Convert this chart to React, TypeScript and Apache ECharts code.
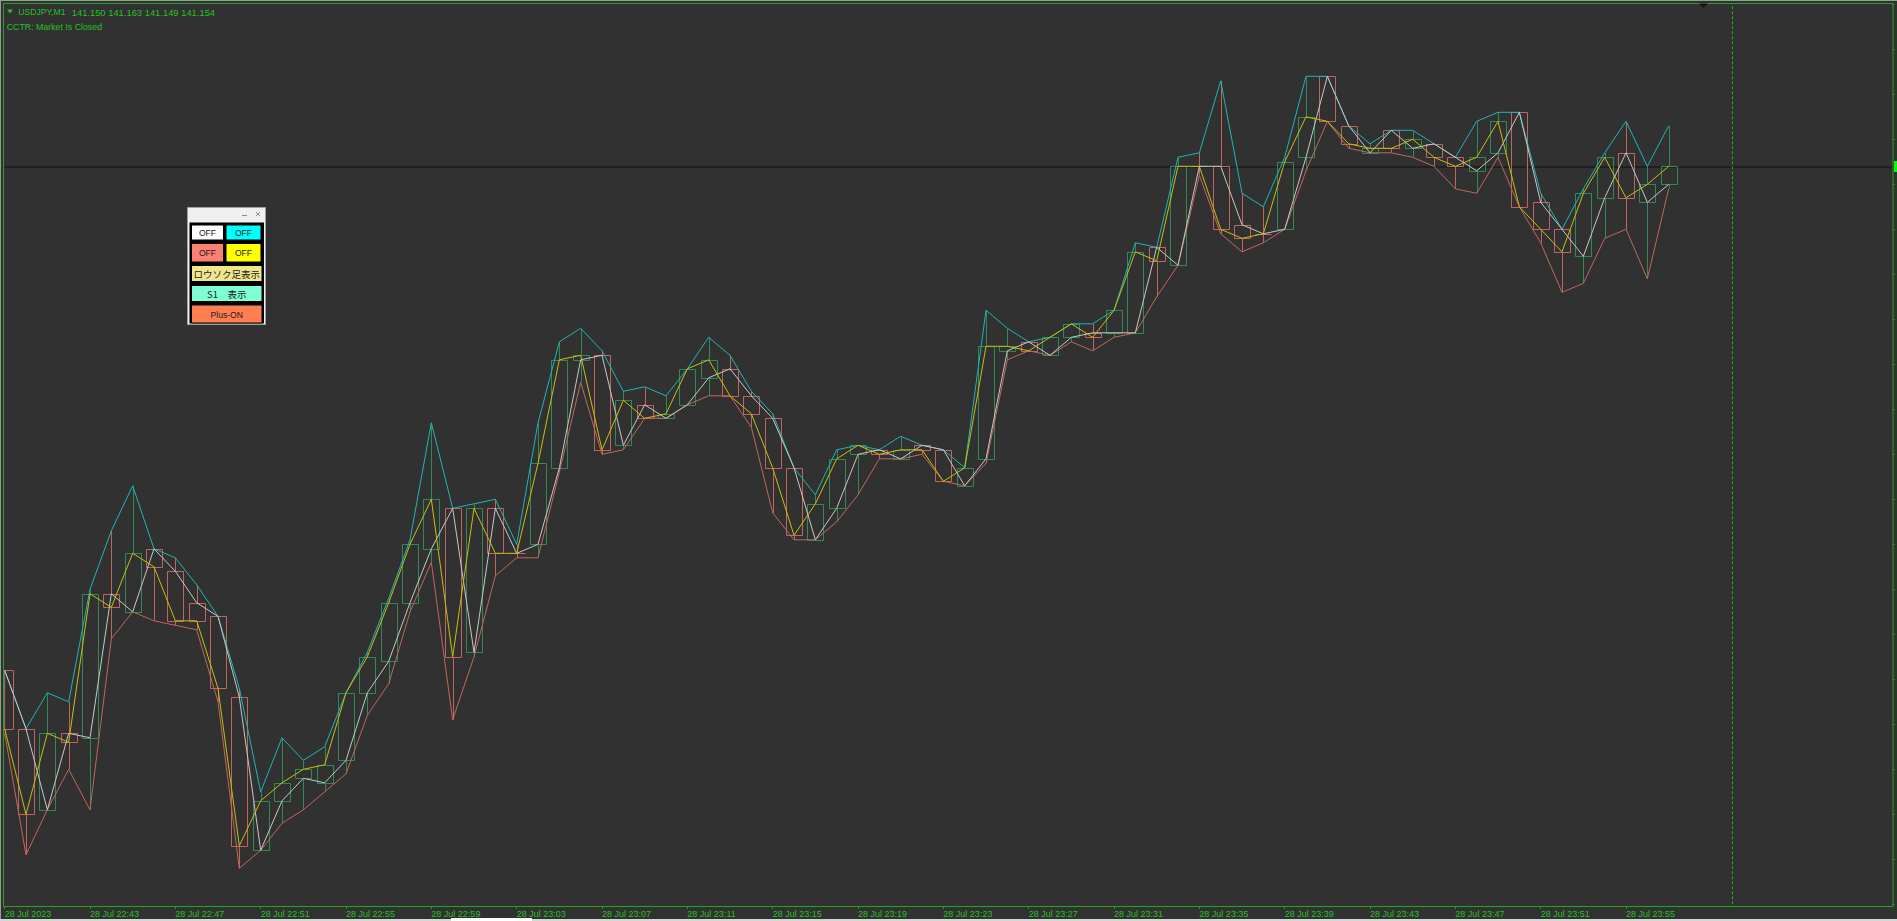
import React, { useEffect, useRef } from "react";
import * as echarts from "echarts";

// ---- bar times (1-minute bars) ----
const times = [
  "22:39", "22:40", "22:41", "22:42", "22:43", "22:44", "22:45", "22:46", "22:47", "22:48",
  "22:49", "22:50", "22:51", "22:52", "22:53", "22:54", "22:55", "22:56", "22:57", "22:58",
  "22:59", "23:00", "23:01", "23:02", "23:03", "23:04", "23:05", "23:06", "23:07", "23:08",
  "23:09", "23:10", "23:11", "23:12", "23:13", "23:14", "23:15", "23:16", "23:17", "23:18",
  "23:19", "23:20", "23:21", "23:22", "23:23", "23:24", "23:25", "23:26", "23:27", "23:28",
  "23:29", "23:30", "23:31", "23:32", "23:33", "23:34", "23:35", "23:36", "23:37", "23:38",
  "23:39", "23:40", "23:41", "23:42", "23:43", "23:44", "23:45", "23:46", "23:47", "23:48",
  "23:49", "23:50", "23:51", "23:52", "23:53", "23:54", "23:55", "23:56", "23:57",
];

// ---- OHLC ----
const opens = [
  141.042, 141.029, 141.011, 141.028, 141.027, 141.059, 141.055, 141.069, 141.064, 141.057,
  141.054, 141.036, 141.002, 141.013, 141.018, 141.017, 141.022, 141.037, 141.044, 141.057,
  141.069, 141.078, 141.046, 141.078, 141.068, 141.070, 141.087, 141.111, 141.112, 141.092,
  141.101, 141.098, 141.101, 141.107, 141.109, 141.103, 141.098, 141.087, 141.071, 141.078,
  141.090, 141.091, 141.089, 141.092, 141.091, 141.083, 141.089, 141.113, 141.115, 141.112,
  141.116, 141.117, 141.117, 141.117, 141.136, 141.132, 141.154, 141.154, 141.141, 141.139,
  141.140, 141.156, 141.174, 141.163, 141.157, 141.162, 141.158, 141.159, 141.156, 141.153,
  141.157, 141.166, 141.146, 141.140, 141.134, 141.147, 141.157, 141.146, 141.150,
];
const highs = [
  141.042, 141.029, 141.037, 141.035, 141.060, 141.073, 141.083, 141.069, 141.067, 141.061,
  141.054, 141.038, 141.015, 141.027, 141.022, 141.025, 141.037, 141.046, 141.058, 141.071,
  141.097, 141.078, 141.079, 141.080, 141.070, 141.097, 141.115, 141.118, 141.113, 141.104,
  141.105, 141.103, 141.109, 141.116, 141.112, 141.104, 141.099, 141.087, 141.081, 141.091,
  141.092, 141.091, 141.094, 141.092, 141.091, 141.087, 141.122, 141.118, 141.115, 141.116,
  141.119, 141.119, 141.122, 141.137, 141.136, 141.156, 141.157, 141.173, 141.148, 141.145,
  141.156, 141.174, 141.174, 141.163, 141.159, 141.162, 141.162, 141.159, 141.156, 141.164,
  141.166, 141.166, 141.148, 141.140, 141.149, 141.157, 141.164, 141.154, 141.163,
];
const lows = [
  141.028, 141.001, 141.011, 141.020, 141.011, 141.049, 141.055, 141.053, 141.052, 141.051,
  141.035, 140.998, 141.002, 141.008, 141.011, 141.015, 141.019, 141.032, 141.039, 141.055,
  141.066, 141.031, 141.045, 141.063, 141.067, 141.067, 141.086, 141.106, 141.090, 141.091,
  141.098, 141.098, 141.101, 141.103, 141.103, 141.096, 141.077, 141.071, 141.071, 141.075,
  141.081, 141.089, 141.089, 141.090, 141.084, 141.083, 141.088, 141.111, 141.113, 141.112,
  141.115, 141.113, 141.116, 141.117, 141.125, 141.132, 141.152, 141.139, 141.135, 141.137,
  141.140, 141.153, 141.164, 141.158, 141.157, 141.157, 141.156, 141.154, 141.149, 141.148,
  141.156, 141.145, 141.137, 141.126, 141.128, 141.138, 141.140, 141.129, 141.149,
];
const closes = [
  141.029, 141.010, 141.028, 141.026, 141.059, 141.056, 141.068, 141.065, 141.053, 141.053,
  141.038, 141.003, 141.013, 141.017, 141.020, 141.021, 141.037, 141.045, 141.057, 141.070,
  141.080, 141.045, 141.078, 141.068, 141.068, 141.088, 141.111, 141.112, 141.091, 141.102,
  141.098, 141.099, 141.109, 141.111, 141.103, 141.099, 141.087, 141.072, 141.079, 141.089,
  141.092, 141.090, 141.091, 141.091, 141.084, 141.087, 141.114, 141.114, 141.113, 141.116,
  141.119, 141.116, 141.122, 141.135, 141.133, 141.154, 141.154, 141.140, 141.138, 141.139,
  141.155, 141.165, 141.164, 141.159, 141.158, 141.158, 141.160, 141.156, 141.154, 141.156,
  141.164, 141.145, 141.140, 141.135, 141.148, 141.156, 141.147, 141.150, 141.154,
];

// ---- axis ticks / labels ----
const tickIdx = [0, 4, 8, 12, 16, 20, 24, 28, 32, 36, 40, 44, 48, 52, 56, 60, 64, 68, 72, 76];
const tickLabels = tickIdx.map((i) => (i === 0 ? "28 Jul 2023" : "28 Jul " + times[i]));
const bidPrice = 141.154;
const separatorIdx = 81; // 00:00 day separator
const headerSymbol = "USDJPY,M1";
const headerPrices = "141.150 141.163 141.149 141.154";
const statusText = "CCTR: Market Is Closed";
const panelButtons = [
  { label: "OFF", fill: "#ffffff" },
  { label: "OFF", fill: "#00ffff" },
  { label: "OFF", fill: "#fa8072" },
  { label: "OFF", fill: "#ffff00" },
  { label: "ロウソク足表示", fill: "#f0e68c" },
  { label: "S1　表示", fill: "#7fffd4" },
  { label: "Plus-ON", fill: "#ff7f50" },
];

const BG = "#313131";
const GREEN_TXT = "#22c422";
const BORDER = "#22a622";
const CANDLE_UP = "#2f8a55";
const CANDLE_DN = "#c0665c";
const HIGH_C = "#1fb5b8";
const LOW_C = "#c0685c";
const OPEN_C = "#c8c8c8";
const CLOSE_C = "#c8c010";

export default function App() {
  const ref = useRef<HTMLDivElement>(null);

  useEffect(() => {
    if (!ref.current) return;
    const chart = echarts.init(ref.current, undefined, { renderer: "svg" });

    const candleRows = opens.map((o, i) => [i, o, highs[i], lows[i], closes[i]]);
    const pts = (arr: number[]) => arr.map((v, i) => [i, v]);

    const renderItem = (params: any, api: any) => {
      const i = api.value(0);
      const o = api.value(1);
      const h = api.value(2);
      const l = api.value(3);
      const c = api.value(4);
      const pO = api.coord([i, o]);
      const pC = api.coord([i, c]);
      const pH = api.coord([i, h]);
      const pL = api.coord([i, l]);
      const w = Math.round(api.size([1, 0])[0] * 0.75);
      const cx = Math.round(pO[0]) + 0.5;
      const top = Math.round(Math.min(pO[1], pC[1])) + 0.5;
      const bot = Math.round(Math.max(pO[1], pC[1])) + 0.5;
      const col = c > o ? CANDLE_UP : CANDLE_DN;
      const cs = params.coordSys;
      const clipR = { x: cs.x, y: cs.y, width: cs.width, height: cs.height };
      const left = cx - w / 2;
      const children: any[] = [];
      if (bot - top >= 1) {
        const r = echarts.graphic.clipRectByRect(
          { x: left, y: top, width: w, height: bot - top },
          clipR
        );
        if (r) children.push({ type: "rect", shape: r, style: { fill: "none", stroke: col, lineWidth: 1 } });
      } else {
        children.push({
          type: "line",
          shape: { x1: Math.max(left, cs.x), y1: top, x2: left + w, y2: top },
          style: { stroke: col, lineWidth: 1 },
        });
      }
      if (pH[1] < top - 0.5)
        children.push({ type: "line", shape: { x1: cx, y1: pH[1], x2: cx, y2: top }, style: { stroke: col, lineWidth: 1 } });
      if (pL[1] > bot + 0.5)
        children.push({ type: "line", shape: { x1: cx, y1: bot, x2: cx, y2: pL[1] }, style: { stroke: col, lineWidth: 1 } });
      return { type: "group", children };
    };

    const lineSeries = (name: string, arr: number[], color: string, z: number, extra: any = {}) => ({
      type: "line",
      name,
      data: pts(arr),
      symbol: "none",
      silent: true,
      z,
      lineStyle: { color, width: 1 },
      ...extra,
    });

    // Panel graphics
    const panel: any[] = [
      { type: "rect", shape: { x: 187.5, y: 207.5, width: 78, height: 117 }, style: { fill: "#f0f0f0", stroke: "#a0a0a0", lineWidth: 1 }, z: 110 },
      { type: "rect", shape: { x: 189.5, y: 222.5, width: 74.5, height: 101 }, style: { fill: "#000000" }, z: 111 },
      { type: "line", shape: { x1: 242, y1: 215.5, x2: 247, y2: 215.5 }, style: { stroke: "#8a8a8a", lineWidth: 1 }, z: 111 },
      { type: "line", shape: { x1: 256, y1: 212, x2: 260, y2: 216 }, style: { stroke: "#8a8a8a", lineWidth: 1 }, z: 111 },
      { type: "line", shape: { x1: 260, y1: 212, x2: 256, y2: 216 }, style: { stroke: "#8a8a8a", lineWidth: 1 }, z: 111 },
    ];
    const boxes = [
      [191.5, 225, 32, 15],
      [226, 225, 35, 15],
      [191.5, 243.5, 32, 18.5],
      [226, 243.5, 35, 18.5],
      [191.5, 265.5, 70.5, 16],
      [191.5, 285.5, 70.5, 16],
      [191.5, 305, 70.5, 18],
    ];
    panelButtons.forEach((b, k) => {
      const [x, y, w, h] = boxes[k];
      const cjk = /[^\x00-\x7f]/.test(b.label);
      panel.push({ type: "rect", shape: { x, y, width: w, height: h }, style: { fill: b.fill, stroke: "#000", lineWidth: 1 }, z: 112 });
      panel.push({
        type: "text",
        x: x + w / 2,
        y: y + h / 2 + 0.5,
        style: {
          text: b.label,
          align: "center",
          verticalAlign: "middle",
          fill: "#1a1a1a",
          fontSize: cjk ? 9.5 : 8.6,
          fontFamily: cjk ? "Noto Sans CJK JP" : "Liberation Sans",
        },
        z: 113,
      });
    });

    const option: any = {
      animation: false,
      backgroundColor: BG,
      grid: { left: 4.67, right: 4.3, top: 4.3, bottom: 16.7, containLabel: false, outerBoundsMode: "none" },
      xAxis: {
        type: "value",
        min: 0,
        max: 88.5,
        position: "bottom",
        offset: 2.4,
        splitLine: { show: false },
        axisLine: { show: true, onZero: false, lineStyle: { color: BORDER, width: 1 } },
        axisTick: { show: true, length: 2, customValues: tickIdx, lineStyle: { color: BORDER } },
        axisLabel: {
          show: true,
          customValues: tickIdx,
          formatter: (v: number) => tickLabels[tickIdx.indexOf(Math.round(v))] || "",
          align: "left",
          margin: 3,
          color: GREEN_TXT,
          fontSize: 9,
          fontFamily: "Liberation Sans",
        },
      },
      yAxis: {
        type: "value",
        min: 140.99,
        max: 141.19,
        interval: 0.01,
        position: "right",
        splitLine: { show: false },
        axisLine: { show: false, onZero: false },
        axisTick: { show: true, length: 2, lineStyle: { color: BORDER } },
        axisLabel: { show: false },
      },
      series: [
        {
          type: "custom",
          name: "Candles",
          renderItem,
          data: candleRows,
          encode: { x: 0, y: [1, 2, 3, 4] },
          z: 2,
          clip: true,
          silent: true,
        },
        lineSeries("Low", lows, LOW_C, 3, {
          markLine: {
            silent: true,
            precision: 3,
            symbol: ["none", "none"],
            label: { show: false },
            z: 1,
            data: [
              { yAxis: bidPrice, lineStyle: { color: "#1b1b1b", width: 1.5, type: "solid" } },
              { xAxis: separatorIdx, lineStyle: { color: "#12b412", width: 1, type: [3, 2] } },
            ],
          },
        }),
        lineSeries("High", highs, HIGH_C, 3),
        lineSeries("Open", opens, OPEN_C, 4),
        lineSeries("Close", closes, CLOSE_C, 5),
      ],
      graphic: {
        elements: [
          { type: "rect", shape: { x: 0, y: 0, width: 1897, height: 1 }, style: { fill: "#9a9a9a" }, z: 100, silent: true },
          { type: "rect", shape: { x: 0, y: 0, width: 1, height: 921 }, style: { fill: "#9a9a9a" }, z: 100, silent: true },
          { type: "rect", shape: { x: 3.5, y: 3.5, width: 1889.5, height: 903 }, style: { fill: "none", stroke: BORDER, lineWidth: 1 }, z: 100, silent: true },
          { type: "rect", shape: { x: 0, y: 919, width: 1897, height: 2 }, style: { fill: "#d6d6d6" }, z: 100, silent: true },
          { type: "rect", shape: { x: 451, y: 918, width: 81, height: 3 }, style: { fill: "#ffffff" }, z: 101, silent: true },
          { type: "polygon", shape: { points: [[7, 9.5], [13, 9.5], [10, 13.5]] }, style: { fill: GREEN_TXT }, z: 100, silent: true },
          {
            type: "text", x: 18.3, y: 12.3, z: 100, silent: true,
            style: { text: headerSymbol, fill: GREEN_TXT, fontSize: 8.6, fontFamily: "Liberation Sans", verticalAlign: "middle" },
          },
          {
            type: "text", x: 71.7, y: 12.3, z: 100, silent: true,
            style: { text: headerPrices, fill: GREEN_TXT, fontSize: 9.4, fontFamily: "Liberation Sans", verticalAlign: "middle" },
          },
          {
            type: "text", x: 6.7, y: 26.8, z: 100, silent: true,
            style: { text: statusText, fill: GREEN_TXT, fontSize: 8.8, fontFamily: "Liberation Sans", verticalAlign: "middle" },
          },
          { type: "polygon", shape: { points: [[1699, 3.5], [1708, 3.5], [1703.5, 8]] }, style: { fill: "#151515" }, z: 100, silent: true },
          { type: "rect", shape: { x: 1894, y: 161, width: 3, height: 11 }, style: { fill: "#00ff00" }, z: 100, silent: true },
          ...panel,
        ],
      },
    };

    chart.setOption(option);
    return () => chart.dispose();
  }, []);

  return (
    <div
      ref={ref}
      style={{ position: "fixed", left: 0, top: 0, width: 1897, height: 921 }}
    />
  );
}
